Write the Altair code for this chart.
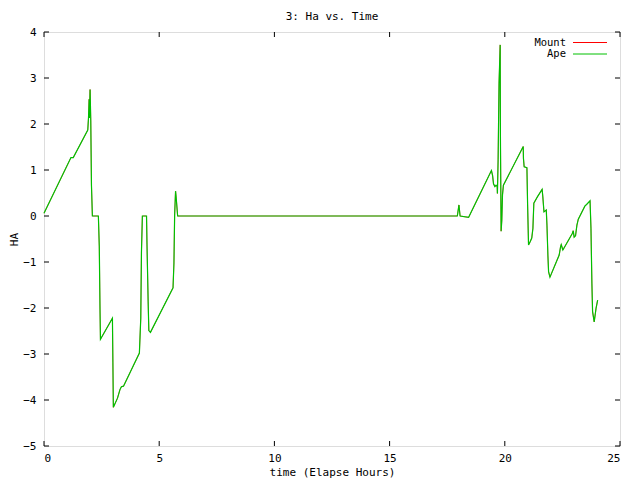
import altair as alt
import pandas as pd

# time (hours) and HA values
time_h = [0.0, 1.17, 1.27, 1.90, 1.93, 1.96, 1.97, 2.00, 2.03, 2.06, 2.10, 2.36,
          2.40, 2.43, 2.45, 2.97, 2.99, 3.01, 3.19, 3.30, 3.36, 3.45, 4.14, 4.20,
          4.23, 4.27, 4.45, 4.47, 4.52, 4.55, 4.62, 5.60, 5.64, 5.67, 5.71, 5.74,
          5.80, 17.94, 18.01, 18.06, 18.43, 19.42, 19.47, 19.51, 19.57, 19.62,
          19.67, 19.68, 19.71, 19.75, 19.80, 19.81, 19.84, 19.87, 19.90, 19.94,
          20.80, 20.81, 20.84, 20.96, 20.99, 21.03, 21.10, 21.17, 21.22, 21.26,
          21.42, 21.62, 21.65, 21.70, 21.80, 21.83, 21.87, 21.90, 21.96, 22.36,
          22.42, 22.45, 22.52, 22.93, 22.97, 23.01, 23.07, 23.13, 23.19, 23.48,
          23.55, 23.70, 23.74, 23.78, 23.81, 23.88, 23.93, 23.96, 24.03]
ape_ha = [0.06, 1.27, 1.27, 1.87, 2.12, 2.54, 2.13, 2.75, 2.07, 0.67, 0.0, 0.0,
          -0.67, -2.0, -2.68, -2.22, -3.18, -4.16, -3.96, -3.77, -3.71, -3.70, -2.98, -2.22,
          -0.78, 0.0, 0.0, -0.61, -1.86, -2.49, -2.53, -1.56, -1.02, 0.02, 0.54, 0.38,
          0.0, 0.0, 0.24, 0.0, -0.03, 0.99, 0.88, 0.70, 0.64, 0.67,
          0.64, 0.49, 1.23, 2.88, 3.72, 1.72, -0.33, -0.09, 0.46, 0.67,
          1.51, 1.25, 1.07, 1.05, 0.24, -0.63, -0.56, -0.48, -0.27, 0.28,
          0.42, 0.58, 0.42, 0.09, 0.13, -0.20, -0.85, -1.21, -1.33, -0.85,
          -0.67, -0.62, -0.74, -0.38, -0.32, -0.46, -0.43, -0.20, -0.07, 0.22,
          0.25, 0.33, -0.27, -1.46, -2.08, -2.30, -2.12, -2.01, -1.83]
mount_ha = list(ape_ha)

series_names = ["Mount", "Ape"]
series_colors = ["#ff0000", "#00c000"]
x_ticks = [0, 5, 10, 15, 20, 25]
y_ticks = [-5, -4, -3, -2, -1, 0, 1, 2, 3, 4]

W, H = 576, 414
FONT = "DejaVu Sans Mono"
FS = 11

df_mount = pd.DataFrame({"t": time_h, "ha": mount_ha})
df_ape = pd.DataFrame({"t": time_h, "ha": ape_ha})
df_xt = pd.DataFrame({"t": x_ticks})
df_yt = pd.DataFrame({"ha": y_ticks})

xs = alt.Scale(domain=[0, 25], nice=False, zero=False)
ys = alt.Scale(domain=[-5, 4], nice=False, zero=False)

x_axis = alt.Axis(values=x_ticks, title="time (Elapse Hours)", grid=False, ticks=False,
                  domain=False, labelPadding=6, titlePadding=3, labelFont=FONT,
                  titleFont=FONT, labelFontSize=FS, titleFontSize=FS,
                  titleFontWeight="normal", labelColor="black", titleColor="black")
y_axis = alt.Axis(values=y_ticks, title="HA", grid=False, ticks=False, domain=False,
                  labelPadding=8, labelFont=FONT, titleFont=FONT, labelFontSize=FS,
                  titleFontSize=FS, titleFontWeight="normal", labelColor="black",
                  titleColor="black", titleX=-30, titleY=H / 2, titleAngle=-90,
                  titleAlign="center", titleBaseline="middle")

mount_line = alt.Chart(df_mount).mark_line(color=series_colors[0], strokeWidth=0.6).encode(
    x=alt.X("t:Q", scale=xs, axis=x_axis),
    y=alt.Y("ha:Q", scale=ys, axis=y_axis),
)
ape_line = alt.Chart(df_ape).mark_line(color=series_colors[1], strokeWidth=1.2).encode(
    x=alt.X("t:Q", scale=xs),
    y=alt.Y("ha:Q", scale=ys),
)

tick_len = 5
xt_bottom = alt.Chart(df_xt).mark_rule(color="black", strokeWidth=1).encode(
    x=alt.X("t:Q", scale=xs), y=alt.value(H), y2=alt.value(H - tick_len))
xt_top = alt.Chart(df_xt).mark_rule(color="black", strokeWidth=1).encode(
    x=alt.X("t:Q", scale=xs), y=alt.value(0), y2=alt.value(tick_len))
yt_left = alt.Chart(df_yt).mark_rule(color="black", strokeWidth=1).encode(
    y=alt.Y("ha:Q", scale=ys), x=alt.value(0), x2=alt.value(tick_len))
yt_right = alt.Chart(df_yt).mark_rule(color="black", strokeWidth=1).encode(
    y=alt.Y("ha:Q", scale=ys), x=alt.value(W), x2=alt.value(W - tick_len))

leg_layers = []
for i, (name, col) in enumerate(zip(series_names, series_colors)):
    yy = 10.5 + i * 11.5
    leg_layers.append(
        alt.Chart(pd.DataFrame({"label": [name]})).mark_text(
            align="right", baseline="middle", font=FONT, fontSize=10.5, color="black"
        ).encode(text="label:N", x=alt.value(522), y=alt.value(yy))
    )
    leg_layers.append(
        alt.Chart(pd.DataFrame({"label": [name]})).mark_rule(color=col, strokeWidth=1).encode(
            x=alt.value(529), x2=alt.value(563), y=alt.value(yy))
    )

chart = alt.layer(
    mount_line, ape_line, xt_bottom, xt_top, yt_left, yt_right, *leg_layers
).properties(
    width=W, height=H,
    title=alt.Title("3: Ha vs. Time", font=FONT, fontSize=FS, fontWeight="normal",
                    color="black", anchor="middle", offset=4, frame="group"),
    autosize=alt.AutoSizeParams(type="none"),
    padding={"left": 36, "top": 24, "right": 12, "bottom": 34},
).configure_view(stroke="black", strokeWidth=1).configure(background="white")

chart.save("out.html", embed_options={"renderer": "svg", "actions": False})
